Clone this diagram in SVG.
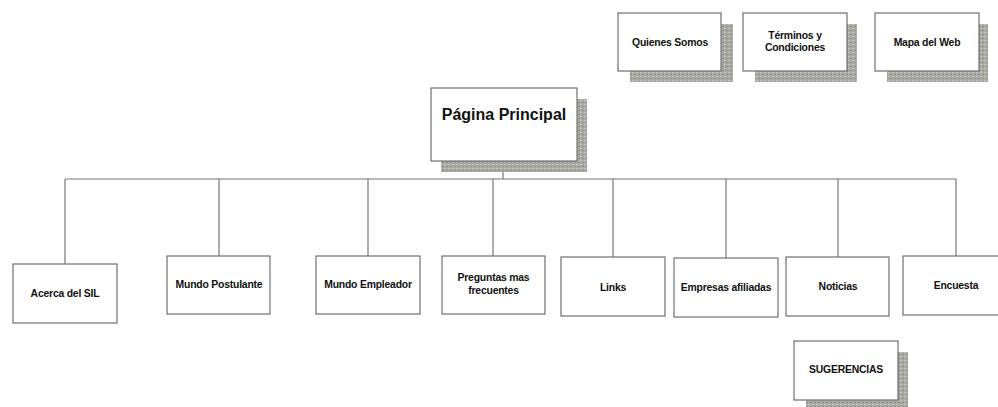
<svg xmlns="http://www.w3.org/2000/svg" width="998" height="407" viewBox="0 0 998 407">
  <style>
    .box { fill: #ffffff; stroke: #6f6f6f; stroke-width: 1.2; }
    .shadow { fill: url(#grain); }
    .lbl { font-family: "Liberation Sans", Arial, sans-serif; font-size: 10.4px; font-weight: bold; fill: #111; text-anchor: middle; letter-spacing: -0.2px; }
    .title { font-family: "Liberation Sans", Arial, sans-serif; font-size: 16px; font-weight: bold; fill: #111; text-anchor: middle; }
    .link { stroke: #777; stroke-width: 1.2; fill: none; }
  </style>
  <defs>
    <pattern id="grain" width="4" height="4" patternUnits="userSpaceOnUse">
      <rect width="4" height="4" fill="#a9aaa3"/>
      <rect x="0" y="0" width="2" height="1" fill="#c4c5bf"/>
      <rect x="2" y="2" width="2" height="1" fill="#8f908a"/>
    </pattern>
  </defs>

  <!-- connectors -->
  <g id="connectors">
    <line class="link" x1="503" y1="161" x2="503" y2="179"/>
    <line class="link" x1="65" y1="179" x2="956" y2="179"/>
    <line class="link" x1="65" y1="179" x2="65" y2="264"/>
    <line class="link" x1="219" y1="179" x2="219" y2="256"/>
    <line class="link" x1="368" y1="179" x2="368" y2="256"/>
    <line class="link" x1="493" y1="179" x2="493" y2="256"/>
    <line class="link" x1="613" y1="179" x2="613" y2="257"/>
    <line class="link" x1="726" y1="179" x2="726" y2="258"/>
    <line class="link" x1="838" y1="179" x2="838" y2="257"/>
    <line class="link" x1="956" y1="179" x2="956" y2="256"/>
  </g>

  <!-- utility pages -->
  <g id="quienes-somos">
    <rect class="shadow" x="630" y="24" width="103" height="58"/>
    <rect class="box" x="618" y="13" width="103" height="58"/>
    <text class="lbl" x="670" y="46">Quienes Somos</text>
  </g>
  <g id="terminos">
    <rect class="shadow" x="755" y="24" width="102" height="58"/>
    <rect class="box" x="743" y="13" width="104" height="58"/>
    <text class="lbl" x="795" y="39">Términos y</text>
    <text class="lbl" x="795" y="51">Condiciones</text>
  </g>
  <g id="mapa-web">
    <rect class="shadow" x="887" y="24" width="101" height="58"/>
    <rect class="box" x="875" y="13" width="104" height="58"/>
    <text class="lbl" x="927" y="46">Mapa del Web</text>
  </g>

  <!-- home -->
  <g id="pagina-principal">
    <rect class="shadow" x="441" y="99" width="146" height="73"/>
    <rect class="box" x="431" y="88" width="146" height="73"/>
    <text class="title" x="504" y="120">Página Principal</text>
  </g>

  <!-- sections -->
  <g id="acerca">
    <rect class="box" x="13" y="264" width="104" height="59"/>
    <text class="lbl" x="65" y="297">Acerca del SIL</text>
  </g>
  <g id="mundo-postulante">
    <rect class="box" x="167" y="256" width="103" height="58"/>
    <text class="lbl" x="219" y="288">Mundo Postulante</text>
  </g>
  <g id="mundo-empleador">
    <rect class="box" x="316" y="256" width="104" height="58"/>
    <text class="lbl" x="368" y="288">Mundo Empleador</text>
  </g>
  <g id="preguntas">
    <rect class="box" x="442" y="256" width="103" height="58"/>
    <text class="lbl" x="493.5" y="281">Preguntas mas</text>
    <text class="lbl" x="493.5" y="294">frecuentes</text>
  </g>
  <g id="links">
    <rect class="box" x="561" y="257" width="104" height="59"/>
    <text class="lbl" x="613" y="291">Links</text>
  </g>
  <g id="empresas">
    <rect class="box" x="674" y="258" width="104" height="59"/>
    <text class="lbl" x="726" y="291">Empresas afiliadas</text>
  </g>
  <g id="noticias">
    <rect class="box" x="786" y="257" width="103" height="59"/>
    <text class="lbl" x="838" y="290">Noticias</text>
  </g>
  <g id="encuesta">
    <rect class="box" x="903" y="256" width="104" height="59"/>
    <text class="lbl" x="956" y="289">Encuesta</text>
  </g>

  <!-- suggestions -->
  <g id="sugerencias">
    <rect class="shadow" x="806" y="352" width="102" height="58"/>
    <rect class="box" x="794" y="341" width="104" height="59"/>
    <text class="lbl" x="846" y="373">SUGERENCIAS</text>
  </g>
</svg>
